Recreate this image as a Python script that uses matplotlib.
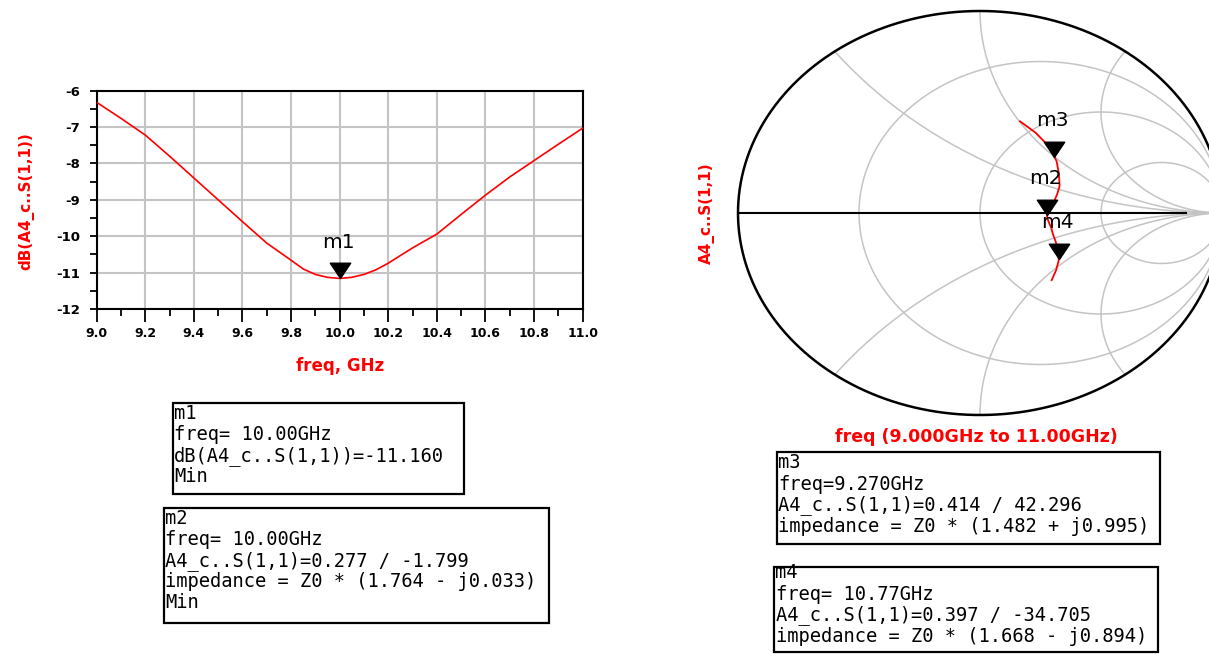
import numpy as np
import matplotlib
matplotlib.use("Agg")
import matplotlib.pyplot as plt
from matplotlib.patches import Rectangle
from matplotlib.path import Path

# ---------------- data ----------------
freq_ghz = [9.0, 9.1, 9.2, 9.3, 9.4, 9.5, 9.6, 9.7, 9.8, 9.85, 9.9, 9.95, 10.0,
            10.05, 10.1, 10.15, 10.2, 10.3, 10.4, 10.5, 10.6, 10.7, 10.8, 10.9, 11.0]
s11_db = [-6.32, -6.76, -7.22, -7.80, -8.40, -9.00, -9.60, -10.19, -10.66, -10.90, -11.05, -11.13, -11.16,
          -11.13, -11.05, -10.92, -10.74, -10.32, -9.94, -9.40, -8.87, -8.37, -7.92, -7.47, -7.03]
s11_phase_deg = [70.0, 60.0, 49.0, 39.0, 31.0, 22.0, 16.0, 10.0, 5.0, 3.2, 1.5, -0.2, -1.8,
                 -3.6, -5.5, -7.7, -10.0, -14.5, -19.0, -23.5, -27.5, -31.5, -36.0, -42.0, -48.3]

xticks = [9.0, 9.2, 9.4, 9.6, 9.8, 10.0, 10.2, 10.4, 10.6, 10.8, 11.0]
yticks = [-12, -11, -10, -9, -8, -7, -6]

m1_freq, m1_db = 10.0, -11.160
smith_marker_names = ["m3", "m2", "m4"]
smith_marker_mag = [0.414, 0.277, 0.397]
smith_marker_ang = [42.296, -1.799, -34.705]

r_circles = [1/3, 1.0, 3.0]
x_arcs = [0.5, 1.0, 2.0, -0.5, -1.0, -2.0]

box_m1 = ["m1", "freq= 10.00GHz", "dB(A4_c..S(1,1))=-11.160", "Min"]
box_m2 = ["m2", "freq= 10.00GHz", "A4_c..S(1,1)=0.277 / -1.799",
          "impedance = Z0 * (1.764 - j0.033)", "Min"]
box_m3 = ["m3", "freq=9.270GHz", "A4_c..S(1,1)=0.414 / 42.296",
          "impedance = Z0 * (1.482 + j0.995)"]
box_m4 = ["m4", "freq= 10.77GHz", "A4_c..S(1,1)=0.397 / -34.705",
          "impedance = Z0 * (1.668 - j0.894)"]

# ---------------- figure ----------------
W, H = 1209, 654
fig = plt.figure(figsize=(W / 100, H / 100), dpi=100)
plt.rcParams['font.family'] = ['DejaVu Sans']

def fx(x):
    return x / W

def fy(y):
    return 1 - y / H

RED = "#ff0000"
GRID = "#c4c4c4"

# marker shape: inverted triangle with tip at data point
tri = Path([(-1, 1.5), (1, 1.5), (0, 0), (-1, 1.5)],
           [Path.MOVETO, Path.LINETO, Path.LINETO, Path.CLOSEPOLY])

# ---------------- left rectangular plot ----------------
L, R, T, B = 96.7, 582.7, 90.7, 309.0
ax = fig.add_axes([fx(L), fy(B), fx(R - L), (B - T) / H])
ax.plot(freq_ghz, s11_db, color=RED, lw=1.2, zorder=3)
ax.set_xlim(9.0, 11.0)
ax.set_ylim(-12, -6)
ax.set_xticks(xticks)
ax.set_xticklabels([f"{v:.1f}" for v in xticks])
ax.set_yticks(yticks)
ax.set_yticklabels([f"{v}" for v in yticks])
ax.set_xticks(np.arange(9.1, 11.0, 0.2), minor=True)
ax.set_yticks(np.arange(-11.5, -6.0, 1.0), minor=True)
ax.grid(True, which='major', color=GRID, lw=1.5, zorder=0)
for s in ax.spines.values():
    s.set_linewidth(1.5)
    s.set_color('black')
ax.tick_params(axis='x', which='major', length=9, width=1.3, direction='out',
               labelsize=9, pad=4)
ax.tick_params(axis='x', which='minor', length=5, width=1.3, direction='out')
ax.tick_params(axis='y', which='major', length=5, width=1.3, direction='out',
               labelsize=9.5, pad=7)
ax.tick_params(axis='y', which='minor', length=5, width=1.3, direction='out')
for lab in ax.get_xticklabels() + ax.get_yticklabels():
    lab.set_fontweight('bold')
ax.set_xlabel("freq, GHz", color=RED, fontsize=12, fontweight='bold', labelpad=12)
fig.text(fx(26), fy(201), "dB(A4_c..S(1,1))", rotation=90, color=RED, fontsize=11,
         fontweight='bold', ha='center', va='center')
ax.plot([m1_freq], [m1_db], marker=tri, markersize=22, color='black',
        linestyle='none', zorder=5, clip_on=False)
ax.annotate("m1", (m1_freq, m1_db), xytext=(-1, 22), textcoords='offset points',
            ha='center', va='baseline', fontsize=14.5)

# ---------------- Smith chart ----------------
cx, cy, rx, ry = 980.0, 213.0, 242.0, 202.0
sa = fig.add_axes([fx(cx - rx), fy(cy + ry), 2 * rx / W, 2 * ry / H])
sa.set_xlim(-1, 1)
sa.set_ylim(-1, 1)
sa.axis('off')

th = np.linspace(-np.pi / 2 + 1e-4, np.pi / 2 - 1e-4, 2000)
for r in r_circles:
    z = r + 1j * np.tan(th)
    g = (z - 1) / (z + 1)
    sa.plot(g.real, g.imag, color=GRID, lw=1.1, zorder=1)
for xv in x_arcs:
    rr = np.tan(np.linspace(0, np.pi / 2 - 1e-4, 2000))
    z = rr + 1j * xv
    g = (z - 1) / (z + 1)
    sa.plot(g.real, g.imag, color=GRID, lw=1.1, zorder=1)

t = np.linspace(0, 2 * np.pi, 600)
sa.plot(np.cos(t), np.sin(t), color='black', lw=1.8, zorder=2, clip_on=False)
sa.plot([-1, 0.85], [0, 0], color='black', lw=1.5, zorder=2)

mag = 10 ** (np.array(s11_db) / 20.0)
ph = np.deg2rad(np.array(s11_phase_deg))
sa.plot(mag * np.cos(ph), mag * np.sin(ph), color=RED, lw=1.3, zorder=3)

for name, m, a in zip(smith_marker_names, smith_marker_mag, smith_marker_ang):
    gx, gy = m * np.cos(np.deg2rad(a)), m * np.sin(np.deg2rad(a))
    sa.plot([gx], [gy], marker=tri, markersize=22, color='black',
            linestyle='none', zorder=5)
    sa.annotate(name, (gx, gy), xytext=(-1, 22), textcoords='offset points',
                ha='center', va='baseline', fontsize=14.5, zorder=6)

fig.text(fx(707), fy(213), "A4_c..S(1,1)", rotation=90, color=RED, fontsize=11,
         fontweight='bold', ha='center', va='center')
fig.text(fx(976), fy(437), "freq (9.000GHz to 11.00GHz)", color=RED, fontsize=12.5,
         fontweight='bold', ha='center', va='center')

# ---------------- marker readout boxes ----------------
def readout(x0, y0, x1, y1, lines, base0, step=21.0):
    fig.add_artist(Rectangle((fx(x0), fy(y1)), fx(x1 - x0), (y1 - y0) / H,
                             transform=fig.transFigure, fill=False,
                             edgecolor='black', lw=1.6))
    for i, s in enumerate(lines):
        fig.text(fx(x0 + 1.5), fy(base0 + i * step), s, fontsize=13.5,
                 family='DejaVu Sans Mono',
                 ha='left', va='baseline', color='black')

readout(172.7, 403.3, 464.0, 494.3, box_m1, 419.0)
readout(164.0, 508.3, 549.3, 623.3, box_m2, 523.5, 21.2)
readout(776.7, 452.3, 1160.0, 544.3, box_m3, 468.5, 21.0)
readout(774.0, 566.7, 1157.7, 651.5, box_m4, 578.5, 21.0)

fig.savefig("out.png", dpi=100)
